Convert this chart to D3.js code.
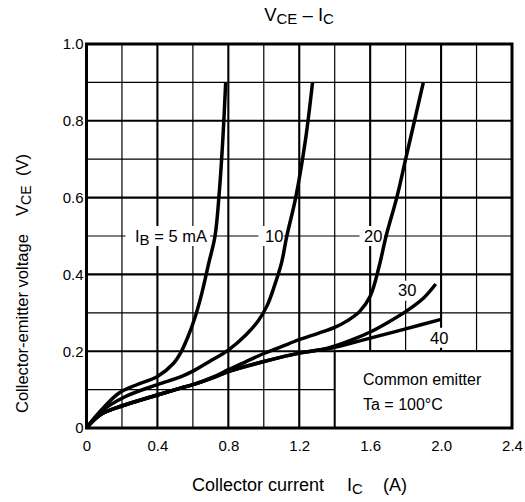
<!DOCTYPE html>
<html>
<head>
<meta charset="utf-8">
<script src="https://cdn.jsdelivr.net/npm/d3@7"></script>
<style>
  html, body { margin: 0; padding: 0; background: #fff; }
  svg { display: block; }
  text { font-family: "Liberation Sans", Arial, Helvetica, sans-serif; fill: #000; }
</style>
</head>
<body>
<svg id="chart" width="525" height="502"></svg>
<script>
// ---- data (Ic in A, Vce in V) ----
const xTickValues = [0, 0.4, 0.8, 1.2, 1.6, 2.0, 2.4];
const xTickLabels = ["0", "0.4", "0.8", "1.2", "1.6", "2.0", "2.4"];
const yTickValues = [0, 0.2, 0.4, 0.6, 0.8, 1.0];
const yTickLabels = ["0", "0.2", "0.4", "0.6", "0.8", "1.0"];

const ib5 = [[0,0],[0.08,0.045],[0.18,0.09],[0.28,0.112],[0.40,0.134],[0.49,0.168],[0.53,0.195],
  [0.57,0.235],[0.61,0.285],[0.65,0.35],[0.69,0.43],[0.725,0.5],[0.75,0.62],[0.77,0.76],[0.785,0.9]];
const ib10 = [[0,0],[0.08,0.042],[0.22,0.082],[0.40,0.113],[0.53,0.133],[0.60,0.148],[0.70,0.175],
  [0.80,0.203],[0.90,0.243],[0.97,0.28],[1.02,0.32],[1.06,0.37],[1.10,0.43],[1.13,0.5],[1.18,0.6],
  [1.235,0.75],[1.275,0.9]];
const ib20 = [[0,0],[0.08,0.035],[0.19,0.056],[0.40,0.086],[0.53,0.104],[0.60,0.113],[0.73,0.136],
  [0.80,0.152],[0.90,0.173],[1.0,0.194],[1.1,0.212],[1.2,0.23],[1.31,0.247],[1.4,0.262],[1.47,0.279],
  [1.54,0.303],[1.6,0.343],[1.65,0.42],[1.69,0.5],[1.75,0.6],[1.80,0.7],[1.85,0.8],[1.90,0.9]];
const ib30 = [[0,0],[0.08,0.035],[0.19,0.056],[0.40,0.086],[0.53,0.104],[0.60,0.113],[0.73,0.134],
  [0.80,0.147],[1.0,0.173],[1.2,0.195],[1.31,0.203],[1.37,0.209],[1.5,0.23],[1.6,0.25],[1.7,0.275],
  [1.8,0.303],[1.9,0.338],[1.97,0.375]];
const ib40 = [[0,0],[0.08,0.035],[0.19,0.056],[0.40,0.086],[0.53,0.104],[0.60,0.113],[0.73,0.134],
  [0.80,0.147],[1.0,0.173],[1.2,0.195],[1.31,0.203],[1.37,0.207],[1.5,0.222],[1.6,0.234],[1.8,0.258],
  [2.0,0.283]];
const seriesList = [ib5, ib10, ib20, ib30, ib40];

// ---- layout ----
const svg = d3.select("#chart");
const x = d3.scaleLinear().domain([0, 2.4]).range([86.5, 512]);
const y = d3.scaleLinear().domain([0, 1.0]).range([428, 44]);

const FONT = 15;

// grid
const gx = d3.range(1, 12).map(i => +(i * 0.2).toFixed(1));
const gy = d3.range(1, 10).map(i => +(i * 0.1).toFixed(1));
const grid = svg.append("g");
grid.selectAll("line.vx").data(gx).join("line")
  .attr("x1", d => x(d)).attr("x2", d => x(d))
  .attr("y1", y(0)).attr("y2", y(1))
  .attr("stroke", "#000")
  .attr("stroke-width", d => (Math.round(d * 10) % 4 === 0) ? 2.1 : 1.2);
grid.selectAll("line.hy").data(gy).join("line")
  .attr("y1", d => y(d)).attr("y2", d => y(d))
  .attr("x1", x(0)).attr("x2", x(2.4))
  .attr("stroke", "#000")
  .attr("stroke-width", d => (Math.round(d * 10) % 2 === 0) ? 2.1 : 1.2);

// legend box (Common emitter)
svg.append("rect")
  .attr("x", x(1.4)).attr("y", y(0.2))
  .attr("width", x(2.4) - x(1.4)).attr("height", y(0) - y(0.2))
  .attr("fill", "#fff").attr("stroke", "#000").attr("stroke-width", 2);

// label backgrounds
function bg(x0, y0, w, h) {
  svg.append("rect").attr("x", x0).attr("y", y0).attr("width", w).attr("height", h).attr("fill", "#fff");
}
bg(x(0.22), y(0.5) - 10, x(0.72) - x(0.22) - 4, 20);
bg(x(0.97), y(0.5) - 10, x(1.135) - x(0.97) - 4, 20);
bg(x(1.54), y(0.5) - 10, x(1.70) - x(1.54) - 4, 20);
bg(x(1.74), y(0.36) - 9, 26, 20);
bg(x(1.92), y(0.235) - 10, 26, 20);

// curves
const line = d3.line().x(d => x(d[0])).y(d => y(d[1])).curve(d3.curveCatmullRom.alpha(0.5));
svg.append("g").selectAll("path").data(seriesList).join("path")
  .attr("d", line)
  .attr("fill", "none").attr("stroke", "#000")
  .attr("stroke-width", 3.5).attr("stroke-linecap", "butt").attr("stroke-linejoin", "round");

// frame
svg.append("rect")
  .attr("x", x(0)).attr("y", y(1))
  .attr("width", x(2.4) - x(0)).attr("height", y(0) - y(1))
  .attr("fill", "none").attr("stroke", "#000").attr("stroke-width", 3);

// axes tick labels
const xAxis = d3.axisBottom(x).tickValues(xTickValues)
  .tickFormat((d, i) => xTickLabels[i]).tickSize(0).tickPadding(12);
const gxa = svg.append("g").attr("transform", `translate(0,${y(0)})`).call(xAxis);
gxa.select(".domain").remove();
gxa.selectAll("text").attr("font-size", FONT).attr("font-family", null).attr("fill", "#000");

const yAxis = d3.axisLeft(y).tickValues(yTickValues)
  .tickFormat((d, i) => yTickLabels[i]).tickSize(0).tickPadding(3);
const gya = svg.append("g").attr("transform", `translate(${x(0)},0)`).call(yAxis);
gya.select(".domain").remove();
gya.selectAll("text").attr("font-size", FONT).attr("font-family", null).attr("fill", "#000");

// title
const title = svg.append("text").attr("x", 299).attr("y", 21).attr("text-anchor", "middle")
  .attr("font-size", 18.5);
title.append("tspan").text("V");
title.append("tspan").attr("font-size", 15).attr("dy", 3).text("CE");
title.append("tspan").attr("dy", -3).text(" \u2013 I");
title.append("tspan").attr("font-size", 15).attr("dy", 3).text("C");

// x axis title
const xt = svg.append("text").attr("x", 192).attr("y", 491).attr("font-size", 18);
xt.append("tspan").text("Collector current");
xt.append("tspan").attr("x", 347).text("I");
xt.append("tspan").attr("font-size", 15).attr("dy", 3).text("C");
xt.append("tspan").attr("x", 383).attr("dy", -3).text("(A)");

// y axis title
const yt = svg.append("text").attr("transform", "translate(28,413) rotate(-90)").attr("font-size", 16.5);
yt.append("tspan").attr("x", 0).text("Collector-emitter voltage");
yt.append("tspan").attr("x", 197).text("V");
yt.append("tspan").attr("font-size", 14).attr("dy", 3).text("CE");
yt.append("tspan").attr("x", 237).attr("dy", -3).text("(V)");

// curve labels
const l5 = svg.append("text").attr("x", 135).attr("y", y(0.5) + 6).attr("font-size", 16.5);
l5.append("tspan").text("I");
l5.append("tspan").attr("font-size", 15).attr("dy", 3).text("B");
l5.append("tspan").attr("dy", -3).text(" = 5 mA");
svg.append("text").attr("x", 265).attr("y", y(0.5) + 6).attr("font-size", 16.5).text("10");
svg.append("text").attr("x", 364).attr("y", y(0.5) + 6).attr("font-size", 16.5).text("20");
svg.append("text").attr("x", 398).attr("y", y(0.36) + 6).attr("font-size", 16.5).text("30");
svg.append("text").attr("x", 430).attr("y", y(0.235) + 6).attr("font-size", 16.5).text("40");

// legend text
svg.append("text").attr("x", 363).attr("y", 385).attr("font-size", 16).text("Common emitter");
svg.append("text").attr("x", 363).attr("y", 410).attr("font-size", 16).text("Ta = 100\u00B0C");
</script>
</body>
</html>
